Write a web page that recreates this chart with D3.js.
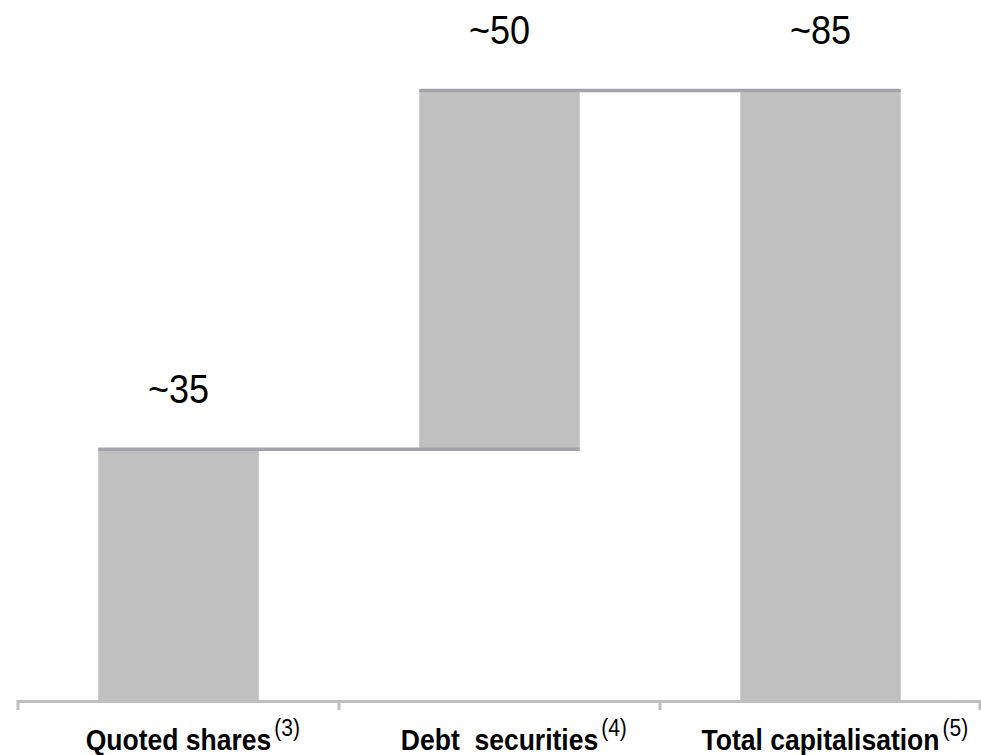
<!DOCTYPE html>
<html>
<head>
<meta charset="utf-8">
<script src="https://d3js.org/d3.v7.min.js"></script>
<style>
    body { margin: 0; background: #ffffff; }
    svg { display: block; }
    text { font-family: "Liberation Sans", Arial, sans-serif; white-space: pre; }
</style>
</head>
<body>
<div id="waterfall"></div>
<script>
// =============================================================================
// data
// =============================================================================
var categories = ["Quoted shares", "Debt  securities", "Total capitalisation"];
var footnotes = ["(3)", "(4)", "(5)"];
var values = [35, 50, 85];
var valueLabels = ["~35", "~50", "~85"];
var isTotal = [false, false, true];

// =============================================================================
// globals
// =============================================================================
var width = 981,
    height = 755;

var _axisLeft = 18,
    _axisRight = 981,
    _baseY = 700,
    _topY = 90;

// text in the original is a little taller than it is wide
var _stretch = 1.13;

var _svg = d3.select("#waterfall").append("svg")
    .attr("width", width)
    .attr("height", height);

// stack up the running totals ================================================
var _bars = [];
var running = 0;
for (var i = 0; i < categories.length; i++) {
    var start = isTotal[i] ? 0 : running;
    var end = isTotal[i] ? values[i] : running + values[i];
    running = end;
    _bars.push({ name: categories[i], note: footnotes[i], label: valueLabels[i], y0: start, y1: end });
}

var x = d3.scaleBand()
    .domain(categories)
    .range([_axisLeft, _axisRight])
    .paddingInner(0.5)
    .paddingOuter(0.25);

var y = d3.scaleLinear()
    .domain([0, 85])
    .range([_baseY, _topY]);

// bars ========================================================================
_svg.append("g")
    .selectAll("rect")
    .data(_bars)
    .enter()
    .append("rect")
    .attr("x", function (d) { return x(d.name); })
    .attr("width", x.bandwidth())
    .attr("y", function (d) { return y(d.y1); })
    .attr("height", function (d) { return y(d.y0) - y(d.y1); })
    .attr("fill", "#c0c0c0");

// connector lines: from the left of one bar to the right of the next =========
var _links = [];
for (var j = 0; j < _bars.length - 1; j++) {
    _links.push({ from: _bars[j].name, to: _bars[j + 1].name, level: _bars[j].y1 });
}

_svg.append("g")
    .selectAll("line")
    .data(_links)
    .enter()
    .append("line")
    .attr("x1", function (d) { return x(d.from); })
    .attr("x2", function (d) { return x(d.to) + x.bandwidth(); })
    .attr("y1", function (d) { return y(d.level) + 0.5; })
    .attr("y2", function (d) { return y(d.level) + 0.5; })
    .attr("stroke", "#a3a3ab")
    .attr("stroke-width", 3.5);

// value labels ================================================================
_svg.append("g")
    .selectAll("text")
    .data(_bars)
    .enter()
    .append("text")
    .attr("transform", function (d) {
        return "translate(" + (x(d.name) + x.bandwidth() / 2) + "," + (y(d.y1) - 46) + ") scale(1," + _stretch + ")";
    })
    .attr("text-anchor", "middle")
    .style("font-size", "36px")
    .style("fill", "#000000")
    .text(function (d) { return d.label; });

// X axis ======================================================================
var _ticks = [_axisLeft];
for (var k = 0; k < categories.length; k++) {
    _ticks.push(x(categories[k]) + x.bandwidth() / 2 + x.step() / 2);
}
_ticks[_ticks.length - 1] = _axisRight - 1;

var xAxis = _svg.append("g").attr("class", "xAxis");

xAxis.append("line")
    .attr("x1", _axisLeft)
    .attr("x2", _axisRight)
    .attr("y1", _baseY + 1.5)
    .attr("y2", _baseY + 1.5)
    .attr("stroke", "#bfbfbf")
    .attr("stroke-width", 3);

xAxis.selectAll("line.tick")
    .data(_ticks)
    .enter()
    .append("line")
    .attr("class", "tick")
    .attr("x1", function (d) { return d; })
    .attr("x2", function (d) { return d; })
    .attr("y1", _baseY)
    .attr("y2", _baseY + 10)
    .attr("stroke", "#bfbfbf")
    .attr("stroke-width", 3);

// category labels with a raised footnote marker ===============================
var catLabels = xAxis.selectAll("g.cat")
    .data(_bars)
    .enter()
    .append("g")
    .attr("class", "cat");

catLabels.append("text")
    .attr("class", "catName")
    .attr("transform", function (d) {
        return "translate(" + (x(d.name) + x.bandwidth() / 2) + ",750) scale(1," + _stretch + ")";
    })
    .attr("text-anchor", "middle")
    .style("font-size", "26.5px")
    .style("font-weight", "bold")
    .style("fill", "#000000")
    .text(function (d) { return d.name; });

catLabels.append("text")
    .attr("transform", function (d) {
        var w = this.parentNode.querySelector("text.catName").getComputedTextLength();
        return "translate(" + (x(d.name) + x.bandwidth() / 2 + w / 2 + 3) + ",736) scale(1," + _stretch + ")";
    })
    .style("font-size", "21px")
    .style("fill", "#000000")
    .text(function (d) { return d.note; });
</script>
</body>
</html>
